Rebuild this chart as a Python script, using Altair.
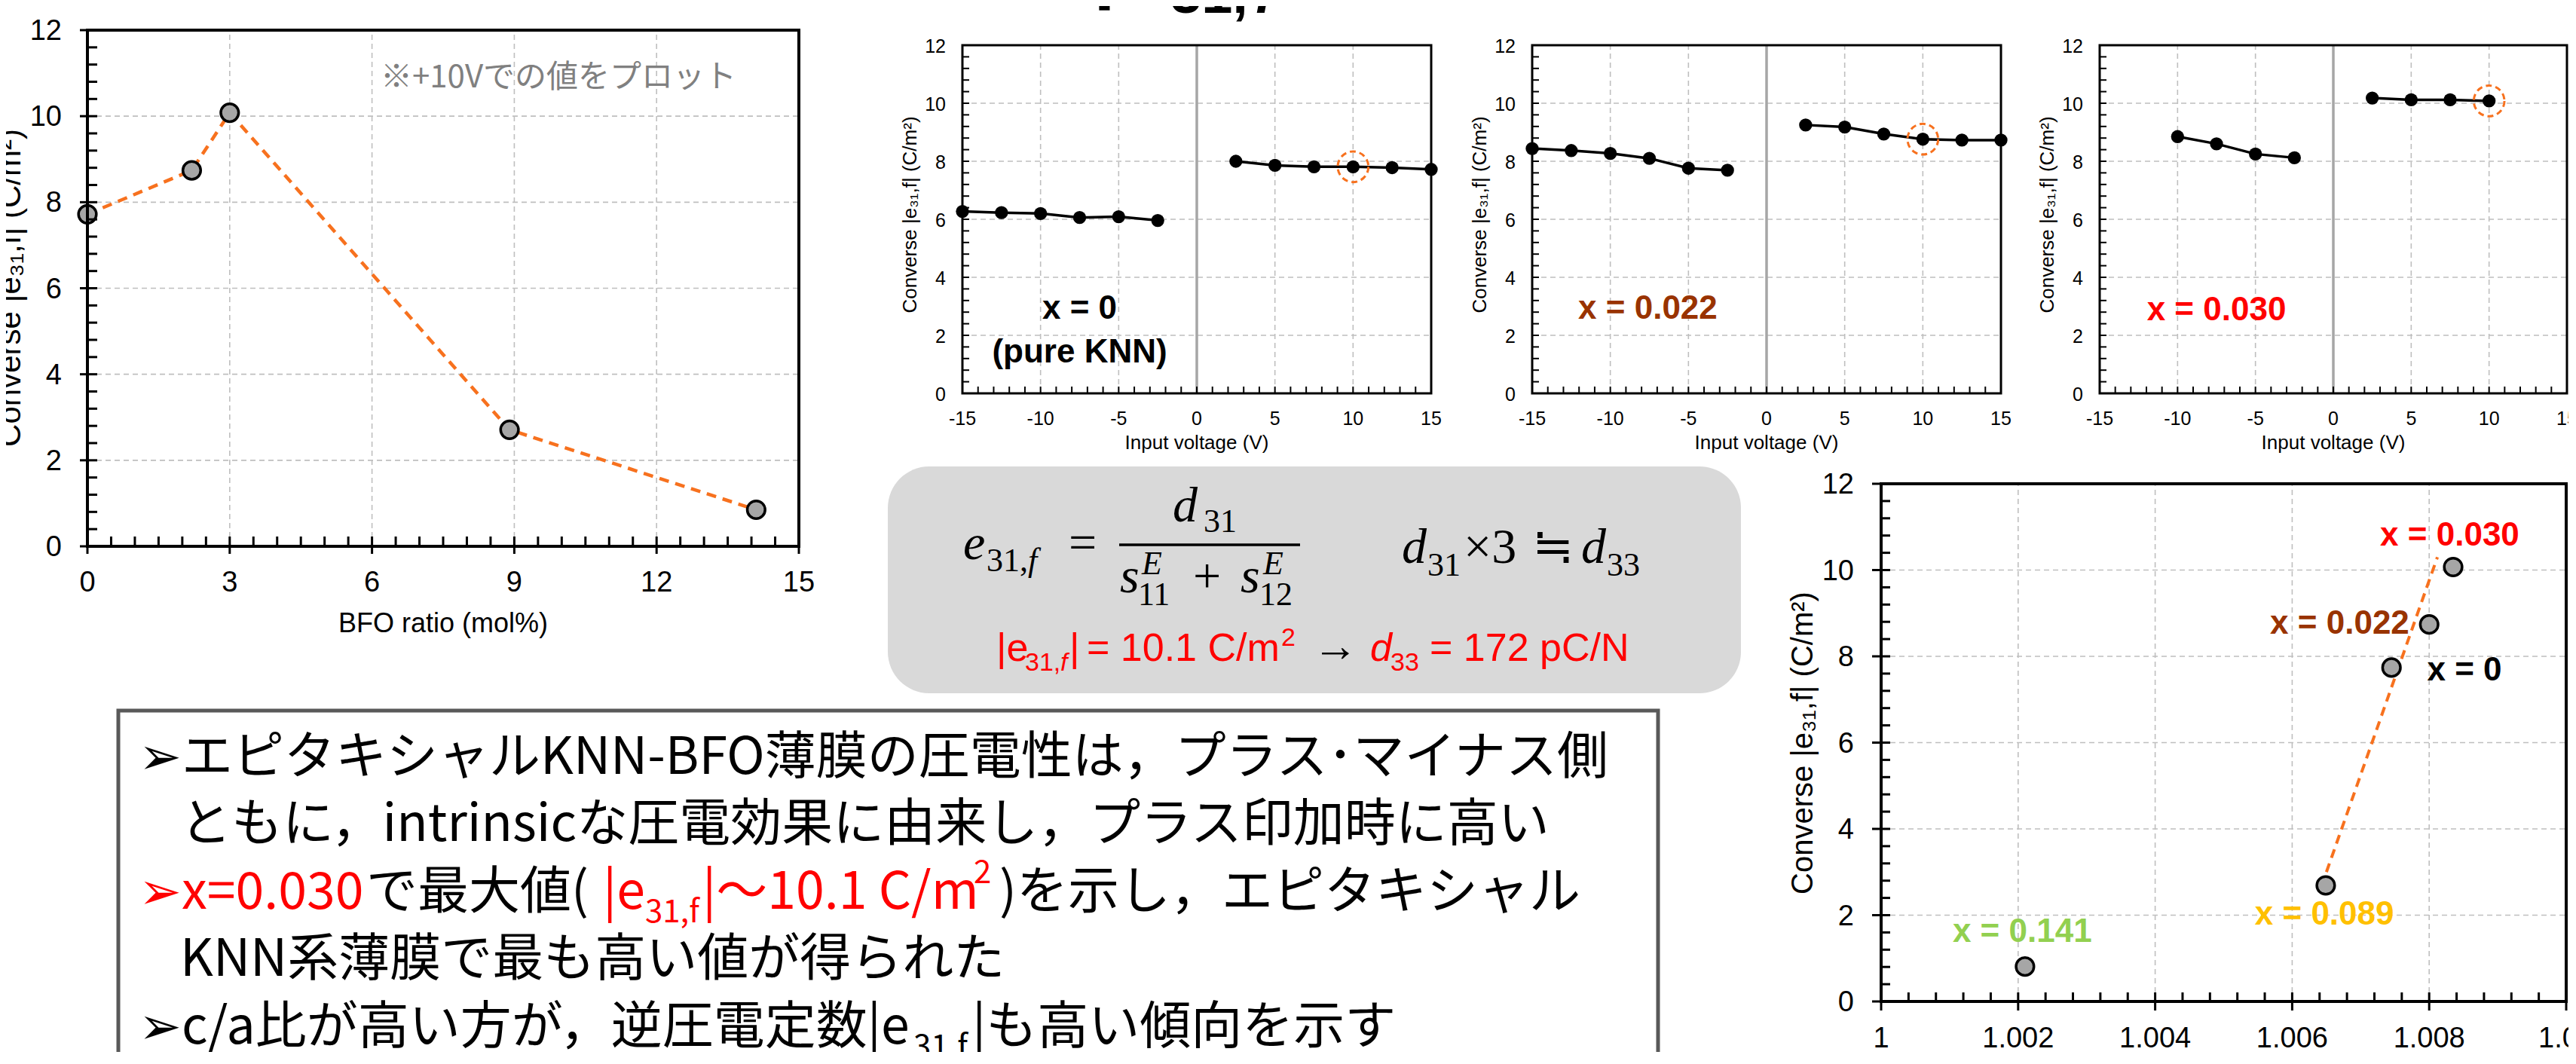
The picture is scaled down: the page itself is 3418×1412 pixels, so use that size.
import altair as alt
import pandas as pd

# ---------------- data ----------------
bfo_ratio = [0.0, 2.2, 3.0, 8.9, 14.1]
e31_at_10v = [7.72, 8.74, 10.08, 2.71, 0.85]

volt_neg = [-15, -12.5, -10, -7.5, -5, -2.5]
volt_pos = [2.5, 5, 7.5, 10, 12.5, 15]
e31_x000_neg = [6.27, 6.23, 6.20, 6.06, 6.09, 5.96]
e31_x000_pos = [8.00, 7.86, 7.81, 7.81, 7.78, 7.72]
e31_x022_neg = [8.44, 8.37, 8.27, 8.10, 7.76, 7.69]
e31_x022_pos = [9.25, 9.18, 8.94, 8.76, 8.73, 8.73]
volt_neg_030 = [-10, -7.5, -5, -2.5]
volt_pos_030 = [2.5, 5, 7.5, 10]
e31_x030_neg = [8.85, 8.60, 8.25, 8.12]
e31_x030_pos = [10.18, 10.12, 10.12, 10.08]
marked_voltage = 10

ca_labels = ["x = 0", "x = 0.022", "x = 0.030", "x = 0.089", "x = 0.141"]
ca_ratio = [1.00745, 1.00800, 1.00835, 1.00649, 1.00210]
e31_vs_ca = [7.74, 8.74, 10.07, 2.69, 0.81]
fit_ca = [1.00650, 1.00812]
fit_e31 = [3.0, 10.3]

bfo_ticks = [0, 3, 6, 9, 12, 15]
bfo_tick_labels = ["0", "3", "6", "9", "12", "15"]
e31_ticks = [0, 2, 4, 6, 8, 10, 12]
e31_tick_labels = ["0", "2", "4", "6", "8", "10", "12"]
volt_ticks = [-15, -10, -5, 0, 5, 10, 15]
volt_tick_labels = ["-15", "-10", "-5", "0", "5", "10", "15"]
ca_ticks = [1.0, 1.002, 1.004, 1.006, 1.008, 1.010]
ca_tick_labels = ["1", "1.002", "1.004", "1.006", "1.008", "1.01"]

# ---------------- layout / style ----------------
W, H, M = 3400, 1388, 8
FONT = "Liberation Sans"
JP = "Noto Sans CJK JP, DejaVu Sans"
SERIF = "Liberation Serif"
ORANGE = "#F7711E"
GRID = "#BFBFBF"
RED = "#FF0000"
BROWN = "#993300"
YELLOW = "#FFC000"
GREEN = "#92D050"

BOX_L = (116, 1060, 40, 725)
BOX_S1 = (1277, 1899, 60, 522)
BOX_S2 = (2033, 2655, 60, 522)
BOX_S3 = (2786, 3406, 60, 522)
BOX_BR = (2496, 3405, 642, 1329)

Y_TITLE = "Converse |e\u2083\u2081,f| (C/m\u00b2)"


def scales(box, xd, yd):
    x0, x1, y0, y1 = box
    return (alt.Scale(domain=xd, range=[x0 - M, x1 - M], nice=False, zero=False),
            alt.Scale(domain=yd, range=[y1 - M, y0 - M], nice=False, zero=False))


def qx(f, s):
    return alt.X(f, type="quantitative", scale=s, axis=None)


def qy(f, s):
    return alt.Y(f, type="quantitative", scale=s, axis=None)


def grid_layers(sx, sy, xd, yd, xv, yv):
    gx = alt.Chart(pd.DataFrame({"v": xv, "a": yd[0], "b": yd[1]})).mark_rule(
        color=GRID, strokeWidth=1.6, strokeDash=[7, 5]).encode(
        x=qx("v", sx), y=qy("a", sy), y2="b")
    gy = alt.Chart(pd.DataFrame({"v": yv, "a": xd[0], "b": xd[1]})).mark_rule(
        color=GRID, strokeWidth=1.6, strokeDash=[7, 5]).encode(
        y=qy("v", sy), x=qx("a", sx), x2="b")
    return [gx, gy]


def ticks(sx, sy, xd, yd, xt, yt, L, w, outward=False):
    tx = alt.Chart(pd.DataFrame({"v": xt, "a": yd[0]})).mark_tick(
        orient="vertical", size=L, thickness=w, color="black",
        yOffset=L / 2 if outward else -L / 2, opacity=1).encode(
        x=qx("v", sx), y=qy("a", sy))
    ty = alt.Chart(pd.DataFrame({"v": yt, "a": xd[0]})).mark_tick(
        orient="horizontal", size=L, thickness=w, color="black",
        xOffset=-L / 2 if outward else L / 2, opacity=1).encode(
        y=qy("v", sy), x=qx("a", sx))
    return [tx, ty]


def tick_labels(sx, sy, xd, yd, xv, xl, yv, yl, size, xdy, ydx):
    lx = alt.Chart(pd.DataFrame({"v": xv, "a": yd[0], "t": xl})).mark_text(
        font=FONT, fontSize=size, color="black", baseline="middle", dy=xdy).encode(
        x=qx("v", sx), y=qy("a", sy), text="t:N")
    ly = alt.Chart(pd.DataFrame({"v": yv, "a": xd[0], "t": yl})).mark_text(
        font=FONT, fontSize=size, color="black", baseline="middle", align="right",
        dx=-ydx, dy=2).encode(y=qy("v", sy), x=qx("a", sx), text="t:N")
    return [lx, ly]


def frame(sx, sy, xd, yd, w):
    df = pd.DataFrame({"a": [xd[0]], "b": [xd[1]], "c": [yd[0]], "d": [yd[1]]})
    return alt.Chart(df).mark_rect(fillOpacity=0, stroke="black", strokeWidth=w).encode(
        x=qx("a", sx), x2="b", y=qy("c", sy), y2="d")


def deco_text(s, x, y, size, color="black", font=FONT, weight="normal",
              style="normal", align="left", baseline="alphabetic", angle=0):
    return alt.Chart(pd.DataFrame({"t": [s]})).mark_text(
        font=font, fontSize=size, fontWeight=weight, fontStyle=style, color=color,
        align=align, baseline=baseline, angle=angle).encode(
        x=alt.value(x - M), y=alt.value(y - M), text="t:N")


def frange(a, b, step):
    n = int(round((b - a) / step))
    return [round(a + i * step, 6) for i in range(n + 1)]


# ---------------- left panel: e31 vs BFO ratio ----------------
XL, YL = [0, 15], [0, 12]
sxL, syL = scales(BOX_L, XL, YL)
df_left = pd.DataFrame({"bfo": bfo_ratio, "e31": e31_at_10v})
left_line = alt.Chart(df_left).mark_line(color=ORANGE, strokeWidth=4.5,
                                         strokeDash=[13, 9]).encode(
    x=qx("bfo", sxL), y=qy("e31", syL))
left_pts = alt.Chart(df_left).mark_point(shape="circle", filled=True, size=560,
                                         fill="#A6A6A6", stroke="black",
                                         strokeWidth=3.5, opacity=1).encode(
    x=qx("bfo", sxL), y=qy("e31", syL))
left_panel = alt.layer(
    *grid_layers(sxL, syL, XL, YL, [3, 6, 9, 12], [2, 4, 6, 8, 10]),
    left_line, left_pts,
    *ticks(sxL, syL, XL, YL, frange(0, 15, 0.5), frange(0, 12, 0.4), 13, 3),
    *ticks(sxL, syL, XL, YL, bfo_ticks, e31_ticks, 10, 3, outward=True),
    *tick_labels(sxL, syL, XL, YL, bfo_ticks, bfo_tick_labels, e31_ticks,
                 e31_tick_labels, 38, 49, 34),
    frame(sxL, syL, XL, YL, 4),
)


# ---------------- small panels: e31 vs voltage ----------------
XS, YS = [-15, 15], [0, 12]


def small_panel(box, vneg, eneg, vpos, epos, labels):
    sx, sy = scales(box, XS, YS)
    df = pd.DataFrame({"v": vneg + vpos, "e": eneg + epos,
                       "side": ["neg"] * len(vneg) + ["pos"] * len(vpos)})
    zero = alt.Chart(pd.DataFrame({"v": [0], "a": [0], "b": [12]})).mark_rule(
        color="#A6A6A6", strokeWidth=3.5).encode(x=qx("v", sx), y=qy("a", sy), y2="b")
    line = alt.Chart(df).mark_line(color="black", strokeWidth=3.5).encode(
        x=qx("v", sx), y=qy("e", sy), detail="side:N")
    pts = alt.Chart(df).mark_circle(size=300, color="black", opacity=1).encode(
        x=qx("v", sx), y=qy("e", sy))
    mark_e = epos[vpos.index(marked_voltage)]
    hl = alt.Chart(pd.DataFrame({"v": [marked_voltage], "e": [mark_e]})).mark_point(
        shape="circle", size=1660, color=ORANGE, strokeWidth=3, strokeDash=[8, 5],
        filled=False, opacity=1).encode(x=qx("v", sx), y=qy("e", sy))
    texts = []
    for t, x, y, c in labels:
        texts.append(alt.Chart(pd.DataFrame({"t": [t], "x": [x], "y": [y]})).mark_text(
            font=FONT, fontSize=44, fontWeight="bold", color=c, baseline="middle").encode(
            x=qx("x", sx), y=qy("y", sy), text="t:N"))
    cx = (box[0] + box[1]) / 2
    titles = [
        deco_text("Input voltage (V)", cx, 588, 26, align="center", baseline="middle"),
        deco_text(Y_TITLE, box[0] - 61, 285, 26, align="center", angle=270),
    ]
    return alt.layer(
        *grid_layers(sx, sy, XS, YS, [-10, -5, 5, 10], [2, 4, 6, 8, 10]),
        zero, line, pts, hl,
        *ticks(sx, sy, XS, YS, frange(-15, 15, 1), frange(0, 12, 0.4), 9, 2),
        *tick_labels(sx, sy, XS, YS, volt_ticks, volt_tick_labels, e31_ticks,
                     e31_tick_labels, 25, 34, 22),
        frame(sx, sy, XS, YS, 3), *texts, *titles)


s1 = small_panel(BOX_S1, volt_neg, e31_x000_neg, volt_pos, e31_x000_pos,
                 [("x = 0", -7.5, 2.9, "black"), ("(pure KNN)", -7.5, 1.4, "black")])
s2 = small_panel(BOX_S2, volt_neg, e31_x022_neg, volt_pos, e31_x022_pos,
                 [("x = 0.022", -7.6, 2.9, BROWN)])
s3 = small_panel(BOX_S3, volt_neg_030, e31_x030_neg, volt_pos_030, e31_x030_pos,
                 [("x = 0.030", -7.5, 2.86, RED)])

# ---------------- bottom-right panel: e31 vs c/a ----------------
XB, YB = [1.0, 1.010], [0, 12]
sxB, syB = scales(BOX_BR, XB, YB)
df_ca = pd.DataFrame({"ca": ca_ratio, "e31": e31_vs_ca, "lab": ca_labels})
df_fit = pd.DataFrame({"ca": fit_ca, "e31": fit_e31})
br_fit = alt.Chart(df_fit).mark_line(color=ORANGE, strokeWidth=4, strokeDash=[12, 8]).encode(
    x=qx("ca", sxB), y=qy("e31", syB))
br_pts = alt.Chart(df_ca).mark_point(shape="circle", filled=True, size=560, fill="#A6A6A6",
                                     stroke="black", strokeWidth=3.5, opacity=1).encode(
    x=qx("ca", sxB), y=qy("e31", syB))
br_label_spec = [  # label, x, y, colour, align
    (ca_labels[2], 1.00830, 10.79, RED, "center"),
    (ca_labels[1], 1.00771, 8.75, BROWN, "right"),
    (ca_labels[0], 1.00797, 7.67, "black", "left"),
    (ca_labels[3], 1.00647, 2.01, YELLOW, "center"),
    (ca_labels[4], 1.00206, 1.61, GREEN, "center"),
]
br_texts = []
for t, x, y, c, a in br_label_spec:
    br_texts.append(alt.Chart(pd.DataFrame({"t": [t], "x": [x], "y": [y]})).mark_text(
        font=FONT, fontSize=44, fontWeight="bold", color=c, align=a, baseline="middle").encode(
        x=qx("x", sxB), y=qy("y", syB), text="t:N"))
br_panel = alt.layer(
    *grid_layers(sxB, syB, XB, YB, [1.002, 1.004, 1.006, 1.008], [2, 4, 6, 8, 10]),
    br_fit, br_pts,
    *ticks(sxB, syB, XB, YB, frange(1.0, 1.010, 0.0004), frange(0, 12, 0.4), 12, 3),
    *ticks(sxB, syB, XB, YB, ca_ticks, e31_ticks, 12, 3, outward=True),
    *tick_labels(sxB, syB, XB, YB, ca_ticks, ca_tick_labels, e31_ticks,
                 e31_tick_labels, 38, 50, 36),
    frame(sxB, syB, XB, YB, 4), *br_texts,
    deco_text(Y_TITLE, 2405, 986, 40, align="center", angle=270),
    deco_text("c/a ratio", 2950, 1432, 40, align="center", baseline="middle"),
)

# ---------------- decorations ----------------
one = pd.DataFrame({"k": [1]})
formula_box = alt.Chart(one).mark_rect(cornerRadius=55, color="#D9D9D9").encode(
    x=alt.value(1178 - M), x2=alt.value(2310 - M), y=alt.value(619 - M), y2=alt.value(920 - M))
text_box = alt.Chart(one).mark_rect(fill="white", stroke="#595959", strokeWidth=5).encode(
    x=alt.value(157 - M), x2=alt.value(2200 - M), y=alt.value(943 - M), y2=alt.value(1440 - M))
frac_bar = alt.Chart(one).mark_rule(color="black", strokeWidth=3.5).encode(
    x=alt.value(1485 - M), x2=alt.value(1725 - M), y=alt.value(723 - M))

deco = [frac_bar]

# left chart axis titles and note
deco += [
    deco_text("BFO ratio (mol%)", 588, 828, 36, align="center", baseline="middle"),
    deco_text(Y_TITLE, 27, 382, 42, align="center", angle=270),
    deco_text("\u203b+10Vでの値をプロット", 505, 116, 42, color="#808080", font=JP),
]

# partially visible slide title at the top edge
deco += [
    deco_text("|", 1450, -11, 110, weight="bold"),
    deco_text("31,", 1553, 17, 74, weight="bold"),
    deco_text("f", 1665, 17, 74, weight="bold", style="italic"),
]

# formula
deco += [
    deco_text("e", 1278, 742, 66, font=SERIF, style="italic"),
    deco_text("31,", 1309, 758, 44, font=SERIF),
    deco_text("f", 1364, 758, 44, font=SERIF, style="italic"),
    deco_text("=", 1418, 742, 66, font=SERIF),
    deco_text("d", 1556, 692, 66, font=SERIF, style="italic"),
    deco_text("31", 1597, 706, 44, font=SERIF),
    deco_text("s", 1486, 786, 66, font=SERIF, style="italic"),
    deco_text("E", 1515, 762, 44, font=SERIF, style="italic"),
    deco_text("11", 1510, 803, 44, font=SERIF),
    deco_text("+", 1583, 786, 66, font=SERIF),
    deco_text("s", 1646, 786, 66, font=SERIF, style="italic"),
    deco_text("E", 1676, 762, 44, font=SERIF, style="italic"),
    deco_text("12", 1671, 803, 44, font=SERIF),
    deco_text("d", 1860, 747, 66, font=SERIF, style="italic"),
    deco_text("31", 1894, 764, 44, font=SERIF),
    deco_text("\u00d73", 1942, 747, 66, font=SERIF),
    deco_text("\u2252", 2033, 747, 66, font=SERIF),
    deco_text("d", 2098, 747, 66, font=SERIF, style="italic"),
    deco_text("33", 2132, 764, 44, font=SERIF),
]
# red result line
deco += [
    deco_text("|e", 1322, 877, 52, color=RED),
    deco_text("31,", 1360, 890, 34, color=RED),
    deco_text("f", 1407, 890, 34, color=RED, style="italic"),
    deco_text("|", 1419, 877, 52, color=RED),
    deco_text("= 10.1 C/m", 1442, 877, 52, color=RED),
    deco_text("2", 1700, 857, 34, color=RED),
    deco_text("\u2192", 1742, 877, 60, color="black"),
    deco_text("d", 1818, 877, 52, color=RED, style="italic"),
    deco_text("33", 1845, 890, 34, color=RED),
    deco_text("= 172 pC/N", 1897, 877, 52, color=RED),
]
# Japanese bullet text
JS = 68
deco += [
    deco_text("\u27a2エピタキシャルKNN-BFO薄膜の圧電性は，プラス･マイナス側", 184, 1027, JS, font=JP),
    deco_text("ともに，intrinsicな圧電効果に由来し，プラス印加時に高い", 239, 1116, JS, font=JP),
    deco_text("\u27a2x=0.030", 184, 1206, JS, color=RED, font=JP),
    deco_text("で最大値(", 486, 1206, JS, font=JP),
    deco_text("|e", 800, 1206, JS, color=RED, font=JP),
    deco_text("31,f", 856, 1224, 42, color=RED, font=JP),
    deco_text("|〜10.1 C/m", 932, 1206, JS, color=RED, font=JP),
    deco_text("2", 1292, 1172, 42, color=RED, font=JP),
    deco_text(")を示し，エピタキシャル", 1326, 1206, JS, font=JP),
    deco_text("KNN系薄膜で最も高い値が得られた", 239, 1295, JS, font=JP),
    deco_text("\u27a2c/a比が高い方が，逆圧電定数|e", 184, 1385, JS, font=JP),
    deco_text("31,f", 1212, 1403, 42, font=JP),
    deco_text("|も高い傾向を示す", 1290, 1385, JS, font=JP),
]

chart = alt.layer(
    formula_box, text_box, left_panel, s1, s2, s3, br_panel, *deco
).resolve_scale(x="independent", y="independent").properties(
    width=W, height=H, padding=0, autosize=alt.AutoSizeParams(type="none"),
    background="white"
).configure_view(stroke="transparent")

chart.save("out.html", embed_options={"renderer": "svg", "actions": False})
